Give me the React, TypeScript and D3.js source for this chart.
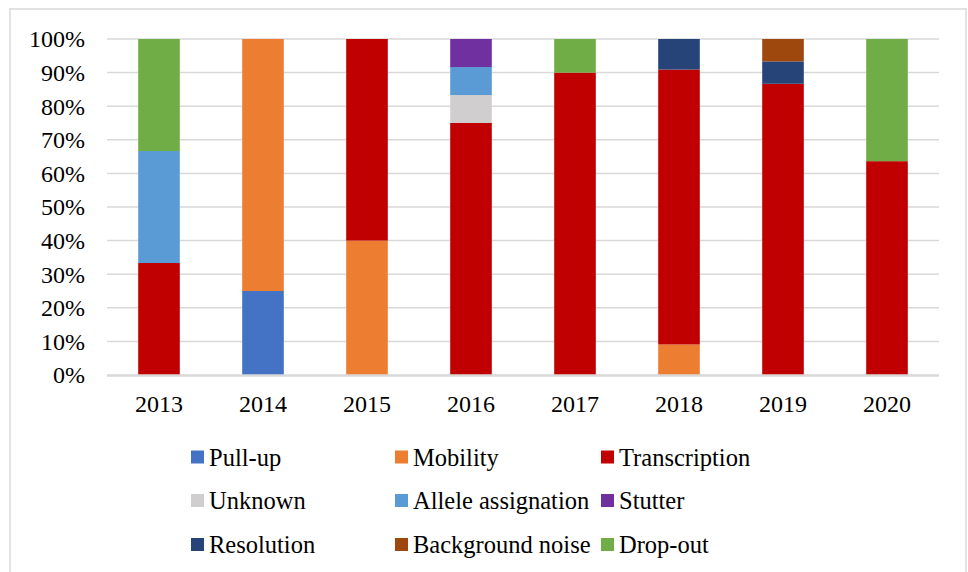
import React from 'react';
import * as d3 from 'd3';

const years = ['2013', '2014', '2015', '2016', '2017', '2018', '2019', '2020'];

const seriesNames = [
  'Pull-up', 'Mobility', 'Transcription',
  'Unknown', 'Allele assignation', 'Stutter',
  'Resolution', 'Background noise', 'Drop-out',
];

const seriesColors = [
  '#4472C4', '#ED7D31', '#C00000',
  '#D0CECE', '#5B9BD5', '#7030A0',
  '#264478', '#9E480E', '#70AD47',
];

// share per year (%)
const pullUp = [0, 25, 0, 0, 0, 0, 0, 0];
const mobility = [0, 75, 40, 0, 0, 9.09, 0, 0];
const transcription = [33.33, 0, 60, 75, 90, 81.82, 86.67, 63.64];
const unknown = [0, 0, 0, 8.33, 0, 0, 0, 0];
const alleleAssignation = [33.33, 0, 0, 8.33, 0, 0, 0, 0];
const stutter = [0, 0, 0, 8.34, 0, 0, 0, 0];
const resolution = [0, 0, 0, 0, 0, 9.09, 6.67, 0];
const backgroundNoise = [0, 0, 0, 0, 0, 0, 6.66, 0];
const dropOut = [33.34, 0, 0, 0, 10, 0, 0, 36.36];

const yTicks = [0, 10, 20, 30, 40, 50, 60, 70, 80, 90, 100];

const width = 968;
const height = 572;
const marginLeft = 107;
const marginRight = 29;
const plotTop = 39;
const plotBottom = 375;
const txt = { fontFamily: 'serif', fontSize: '24px', fill: '#000' };
const legendTxt = { fontFamily: 'serif', fontSize: '24.5px', fill: '#000' };

const App = () => {
  const allSeries = [pullUp, mobility, transcription, unknown, alleleAssignation, stutter, resolution, backgroundNoise, dropOut];
  const rows = years.map((yr, i) => {
    const row: any = { year: yr };
    seriesNames.forEach((n, k) => { row[n] = allSeries[k][i]; });
    return row;
  });
  const stacked = d3.stack().keys(seriesNames)(rows);

  const x = d3.scaleBand()
    .domain(years)
    .range([marginLeft, width - marginRight])
    .paddingInner(0.6)
    .paddingOuter(0.3);
  const y = d3.scaleLinear().domain([0, 100]).range([plotBottom, plotTop]);

  // legend grid
  const colX = [191, 395, 601];
  const rowY = [457, 500.5, 544.5];

  return (
    <svg width={width} height={height} style={{ position: 'absolute', left: 0, top: 0, background: 'white' }}>
      <rect x={10} y={9} width={956} height={600} fill="white" stroke="#d9d9d9" strokeWidth={1.5} />

      {yTicks.filter(t => t > 0).map(t => (
        <line key={t} x1={marginLeft} x2={width - marginRight} y1={y(t)} y2={y(t)} stroke="#d9d9d9" strokeWidth={1.5} />
      ))}

      {stacked.map((s, i) => (
        <g key={s.key} fill={seriesColors[i]}>
          {s.filter(p => p[1] - p[0] > 0).map(p => (
            <rect
              key={p.data.year}
              x={x(p.data.year)}
              width={x.bandwidth()}
              y={y(p[1])}
              height={y(p[0]) - y(p[1])}
            />
          ))}
        </g>
      ))}

      <line x1={marginLeft} x2={width - marginRight} y1={plotBottom + 0.5} y2={plotBottom + 0.5} stroke="#d9d9d9" strokeWidth={2.5} />

      {yTicks.map(t => (
        <text key={t} x={85} y={y(t)} dy="0.35em" textAnchor="end" style={txt}>{t + '%'}</text>
      ))}

      {years.map(yr => (
        <text key={yr} x={(x(yr) as number) + x.bandwidth() / 2} y={412} textAnchor="middle" style={txt}>{yr}</text>
      ))}

      {seriesNames.map((n, i) => (
        <g key={n} transform={`translate(${colX[i % 3]},${rowY[Math.floor(i / 3)]})`}>
          <rect x={0} y={-6.5} width={13} height={13} fill={seriesColors[i]} />
          <text x={18} y={0} dy="0.35em" style={legendTxt}>{n}</text>
        </g>
      ))}
    </svg>
  );
};

export default App;
